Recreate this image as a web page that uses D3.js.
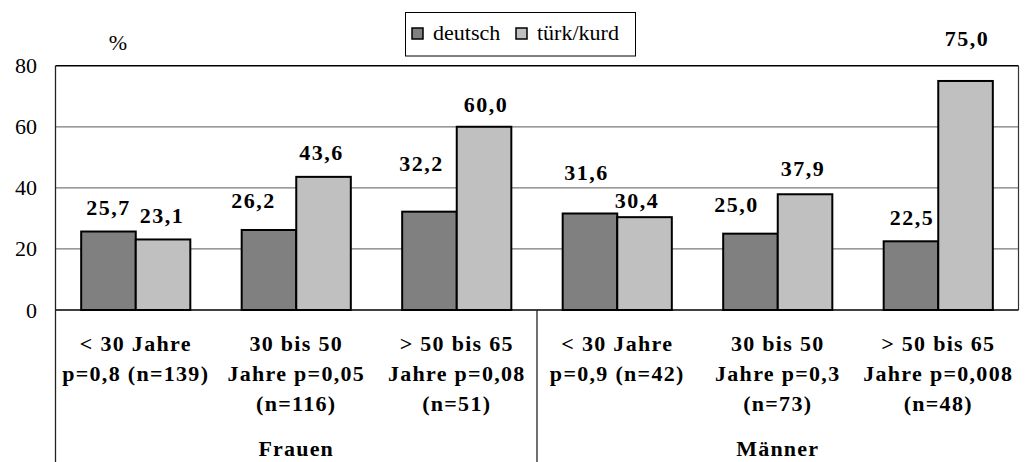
<!DOCTYPE html>
<html>
<head>
<meta charset="utf-8">
<script src="https://cdn.jsdelivr.net/npm/d3@7"></script>
</head>
<body style="margin:0">
<svg id="chart" width="1026" height="462"></svg>
<script>
// ---- data ----
const categoryLines = [
  ["< 30 Jahre", "p=0,8 (n=139)"],
  ["30 bis 50", "Jahre p=0,05", "(n=116)"],
  ["> 50 bis 65", "Jahre p=0,08", "(n=51)"],
  ["< 30 Jahre", "p=0,9 (n=42)"],
  ["30 bis 50", "Jahre p=0,3", "(n=73)"],
  ["> 50 bis 65", "Jahre p=0,008", "(n=48)"]
];
const groupNames = ["Frauen", "Männer"];
const seriesNames = ["deutsch", "türk/kurd"];
const deutsch = [25.7, 26.2, 32.2, 31.6, 25.0, 22.5];
const tuerkKurd = [23.1, 43.6, 60.0, 30.4, 37.9, 75.0];
const yTicks = [0, 20, 40, 60, 80];
const yUnit = "%";

// ---- layout ----
const plotLeft = 55.5, plotRight = 1018.5, plotTop = 65.7, plotBottom = 310;
const colors = ["#808080", "#c0c0c0"];
const fontFam = "Liberation Serif";
// hand-placed label offsets (dx, dy) relative to the top centre of each bar
const labelNudge = [
  [[0, -17], [-15.5, -22], [-8, -41], [-3.5, -34], [-14, -22], [1, -16]],
  [[-1, -16], [-2, -17], [2, -15], [-7.5, -9], [-2, -18], [1.5, -34.5]]
];

const svg = d3.select("#chart");
const idx = d3.range(categoryLines.length);

const x = d3.scaleBand().domain(idx).range([plotLeft, plotRight]).padding(0);
const y = d3.scaleLinear().domain([0, 80]).range([plotBottom, plotTop]);
const barW = x.bandwidth() * 0.34;
const series = [deutsch, tuerkKurd];

// text helper: serif face, optional bold
function label(g, txt, px, py, size, bold, anchor) {
  return g.append("text")
    .attr("x", px).attr("y", py)
    .attr("text-anchor", anchor || "middle")
    .style("font-family", `"${fontFam}"`)
    .style("font-size", size + "px")
    .style("font-weight", bold ? "bold" : "normal")
    .text(txt);
}

// gridlines
svg.append("g")
  .selectAll("line")
  .data(yTicks.filter(t => t > 0 && t < 80))
  .join("line")
  .attr("x1", plotLeft).attr("x2", plotRight)
  .attr("y1", d => y(d)).attr("y2", d => y(d))
  .attr("stroke", "#7a7a7a").attr("stroke-width", 1.2);

// plot frame: top and right borders
svg.append("line").attr("x1", plotLeft).attr("x2", plotRight)
  .attr("y1", y(80)).attr("y2", y(80))
  .attr("stroke", "#000").attr("stroke-width", 1.6);
svg.append("line").attr("x1", plotRight).attr("x2", plotRight)
  .attr("y1", y(80)).attr("y2", y(0))
  .attr("stroke", "#333").attr("stroke-width", 1.2);

// bars
series.forEach((vals, s) => {
  svg.append("g")
    .selectAll("rect")
    .data(idx)
    .join("rect")
    .attr("x", i => x(i) + x.bandwidth() / 2 - barW + s * barW)
    .attr("y", i => y(vals[i]))
    .attr("width", barW)
    .attr("height", i => y(0) - y(vals[i]))
    .attr("fill", colors[s])
    .attr("stroke", "#000")
    .attr("stroke-width", 2);
});

// zero line and value axis
svg.append("line").attr("x1", plotLeft).attr("x2", plotRight)
  .attr("y1", y(0)).attr("y2", y(0))
  .attr("stroke", "#000").attr("stroke-width", 1.3);
svg.append("line").attr("x1", plotLeft).attr("x2", plotLeft)
  .attr("y1", y(80)).attr("y2", 462)
  .attr("stroke", "#222").attr("stroke-width", 1.3);
// group separator on the category axis
svg.append("line").attr("x1", x(3)).attr("x2", x(3))
  .attr("y1", y(0)).attr("y2", 462)
  .attr("stroke", "#222").attr("stroke-width", 1.3);

// y tick labels
const tickG = svg.append("g");
yTicks.forEach(t => label(tickG, String(t), 37, y(t) + 7.5, 22, false, "end"));
label(svg, yUnit, 118, 50, 22, false);

// value labels
const valG = svg.append("g");
series.forEach((vals, s) => {
  idx.forEach(i => {
    label(valG, vals[i].toFixed(1).replace(".", ","),
      x(i) + x.bandwidth() / 2 - barW / 2 + s * barW + labelNudge[s][i][0],
      y(vals[i]) + labelNudge[s][i][1], 22, true)
      .style("letter-spacing", "1.5px");
  });
});

// category labels
const catG = svg.append("g");
idx.forEach(i => {
  categoryLines[i].forEach((line, k) => {
    label(catG, line, x(i) + x.bandwidth() / 2, 351 + k * 30, 22, true)
      .style("letter-spacing", "1.3px");
  });
});

// group labels
groupNames.forEach((g, j) => {
  label(svg, g, (x(j * 3) + x(j * 3 + 2) + x.bandwidth()) / 2, 456, 22, true)
    .style("letter-spacing", "1.2px");
});

// legend
const lg = svg.append("g");
lg.append("rect").attr("x", 405.5).attr("y", 12.5)
  .attr("width", 230).attr("height", 43.5)
  .attr("fill", "#fff").attr("stroke", "#000").attr("stroke-width", 1);
const legendX = [412, 516];
seriesNames.forEach((n, s) => {
  lg.append("rect").attr("x", legendX[s]).attr("y", 28)
    .attr("width", 11).attr("height", 11)
    .attr("fill", colors[s]).attr("stroke", "#000").attr("stroke-width", 1.5);
  label(lg, n, legendX[s] + 21, 39.5, 22, false, "start");
});
</script>
</body>
</html>
